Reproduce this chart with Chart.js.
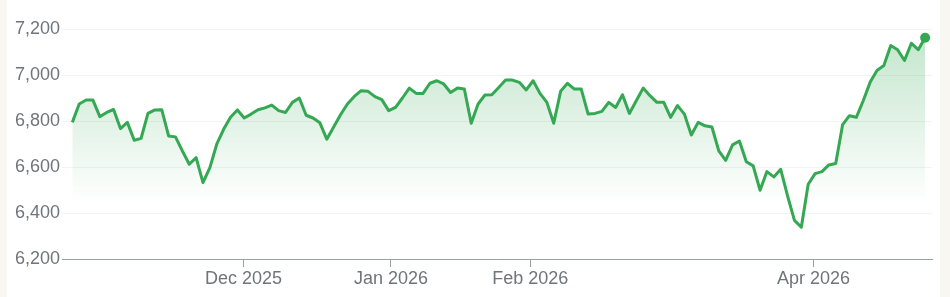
<!DOCTYPE html>
<html>
<head>
<meta charset="utf-8">
<script src="https://cdn.jsdelivr.net/npm/chart.js@4.4.1/dist/chart.umd.min.js"></script>
<style>
  html, body { margin: 0; padding: 0; background: #f8f7f2; }
  #card { position: absolute; left: 7px; top: 0; width: 933px; height: 297px; background: #fff; }
  canvas { display: block; }
</style>
</head>
<body>
<div id="card"><canvas id="chart" width="933" height="297"></canvas></div>
<script>
// daily closes, one per trading day (late Oct 2025 - late Apr 2026)
const closes = [
  6794, 6874, 6891, 6891, 6819, 6837, 6850, 6767, 6794, 6716,
  6725, 6833, 6848, 6849, 6735, 6731, 6670, 6612, 6641, 6532,
  6597, 6699, 6764, 6816, 6848, 6813, 6830, 6849, 6857, 6869,
  6845, 6837, 6881, 6900, 6825, 6813, 6792, 6721, 6774, 6827,
  6874, 6907, 6932, 6929, 6906, 6893, 6845, 6859, 6900, 6943,
  6920, 6920, 6964, 6975, 6961, 6924, 6943, 6939, 6790, 6874,
  6913, 6914, 6946, 6978, 6978, 6968, 6935, 6975, 6920, 6881,
  6790, 6929, 6964, 6939, 6939, 6830, 6833, 6842, 6881, 6859,
  6914, 6833, 6888, 6943, 6910, 6881, 6881, 6816, 6867, 6830,
  6739, 6794, 6779, 6774, 6670, 6629, 6696, 6713, 6623, 6605,
  6499, 6580, 6557, 6590, 6474, 6368, 6338, 6525, 6571, 6580,
  6609, 6615, 6784, 6823, 6816, 6888, 6968, 7020, 7041, 7128,
  7110, 7063, 7138, 7110, 7162
];

// month starts, in trading-day units
const monthTicks = [24.9, 46.33, 66.58, 107.77];
const monthLabels = ['Dec 2025', 'Jan 2026', 'Feb 2026', 'Apr 2026'];

const green = '#34a853';
const lastIdx = closes.length - 1;

Chart.defaults.font.family = "'Liberation Sans', Arial, sans-serif";
Chart.defaults.font.size = 18;
Chart.defaults.color = '#70757a';

const ctx = document.getElementById('chart').getContext('2d');
new Chart(ctx, {
  type: 'line',
  data: {
    datasets: [{
      data: closes.map((v, i) => ({ x: i, y: v })),
      borderColor: green,
      borderWidth: 3,
      borderJoinStyle: 'round',
      tension: 0,
      fill: 'start',
      clip: false,
      backgroundColor: (c) => {
        const area = c.chart.chartArea;
        if (!area) return 'transparent';
        const g = c.chart.ctx.createLinearGradient(0, area.top, 0, area.top + 175);
        g.addColorStop(0, 'rgba(52,168,83,0.30)');
        g.addColorStop(1, 'rgba(52,168,83,0)');
        return g;
      },
      pointRadius: (c) => c.dataIndex === lastIdx ? 5 : 0,
      pointBackgroundColor: green,
      pointBorderWidth: 0,
      pointHoverRadius: 0
    }]
  },
  options: {
    responsive: false,
    animation: false,
    devicePixelRatio: 1,
    layout: { padding: { top: 29, right: 8, left: 0, bottom: 0 } },
    plugins: { legend: { display: false }, tooltip: { enabled: false } },
    scales: {
      x: {
        type: 'linear',
        min: -1.5,
        max: 125,
        afterBuildTicks: (scale) => {
          scale.ticks = monthTicks.map(v => ({ value: v }));
        },
        afterFit: (scale) => { scale.height = 38; },
        ticks: {
          autoSkip: false,
          maxRotation: 0,
          padding: 1,
          callback: (v, i) => monthLabels[i]
        },
        grid: {
          drawOnChartArea: false,
          drawTicks: true,
          tickLength: 8,
          color: '#9aa0a6'
        },
        border: { color: '#9aa0a6', width: 1 }
      },
      y: {
        min: 6200,
        max: 7200,
        afterFit: (scale) => { scale.width = 55; },
        ticks: {
          stepSize: 200,
          padding: 2,
          callback: (v) => v.toLocaleString('en-US')
        },
        grid: { color: '#f1f3f4', drawTicks: false },
        border: { display: false }
      }
    }
  }
});
</script>
</body>
</html>
